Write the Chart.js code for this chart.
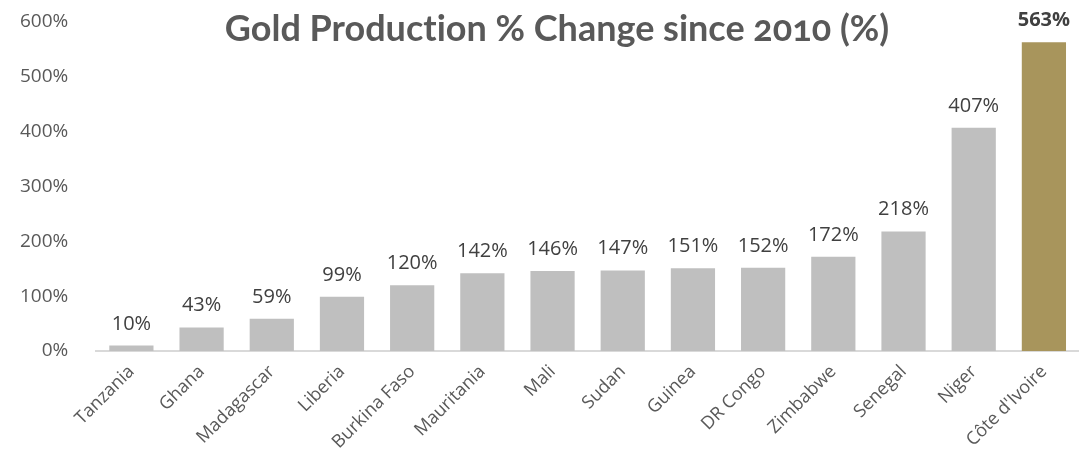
<!DOCTYPE html>
<html>
<head>
    <meta charset="utf-8">
    <title>Gold Production % Change since 2010</title>
    <script src="https://cdn.jsdelivr.net/npm/chart.js"></script>
    <style>
        body { margin: 0; background: #fff; }
        #wrap { position: relative; width: 1079px; height: 460px; }
        #title {
            position: absolute; left: 0; width: 1114px; top: 5px;
            text-align: center; font-family: Lato, "Open Sans", sans-serif;
            font-weight: bold; font-size: 36px; color: #595959;
            font-variant-ligatures: none; font-variant-numeric: oldstyle-nums;
        }
    </style>
</head>
<body>
    <div id="wrap">
        <canvas id="myChart"></canvas>
        <div id="title">Gold Production % Change since 2010 (%)</div>
    </div>
    <script>
        const countries = ['Tanzania', 'Ghana', 'Madagascar', 'Liberia', 'Burkina Faso', 'Mauritania', 'Mali',
            'Sudan', 'Guinea', 'DR Congo', 'Zimbabwe', 'Senegal', 'Niger', "Côte d'Ivoire"];
        const changePct = [10, 43, 59, 99, 120, 142, 146, 147, 151, 152, 172, 218, 407, 563];
        const highlight = "Côte d'Ivoire";

        const grey = '#bfbfbf';
        const gold = '#a8955c';

        // value labels above each bar
        const barLabels = {
            id: 'barLabels',
            afterDatasetsDraw(chart) {
                const ctx = chart.ctx;
                const meta = chart.getDatasetMeta(0);
                ctx.save();
                ctx.textAlign = 'center';
                ctx.textBaseline = 'alphabetic';
                meta.data.forEach((bar, i) => {
                    const isHi = countries[i] === highlight;
                    ctx.font = (isHi ? 'bold ' : '') + '20px "Open Sans", sans-serif';
                    ctx.fillStyle = '#404040';
                    ctx.fillText(changePct[i] + '%', bar.x, bar.y - 16);
                });
                ctx.restore();
            }
        };

        const ctx = document.getElementById('myChart').getContext('2d');
        new Chart(ctx, {
            type: 'bar',
            data: {
                labels: countries,
                datasets: [{
                    data: changePct,
                    backgroundColor: countries.map(c => c === highlight ? gold : grey),
                    barPercentage: 0.63,
                    categoryPercentage: 1.0
                }]
            },
            options: {
                responsive: true,
                maintainAspectRatio: false,
                animation: false,
                layout: { padding: { top: 22, right: 0, left: 0, bottom: 5 } },
                plugins: {
                    legend: { display: false },
                    tooltip: { enabled: false }
                },
                scales: {
                    x: {
                        grid: { display: false },
                        border: { color: '#d9d9d9', width: 2 },
                        ticks: {
                            minRotation: 45,
                            maxRotation: 45,
                            color: '#595959',
                            font: { family: '"Open Sans", sans-serif', size: 18 },
                            padding: 2
                        }
                    },
                    y: {
                        min: 0,
                        max: 600,
                        grid: { display: false },
                        border: { display: false },
                        // keep the label gap from pushing the plot top down
                        afterFit(scale) {
                            scale.paddingTop = 0;
                            scale.paddingBottom = 0;
                        },
                        ticks: {
                            stepSize: 100,
                            color: '#595959',
                            padding: 20,
                            font: { family: '"Open Sans", sans-serif', size: 19 },
                            callback: v => v + '%'
                        }
                    }
                }
            },
            plugins: [barLabels]
        });
    </script>
</body>
</html>
